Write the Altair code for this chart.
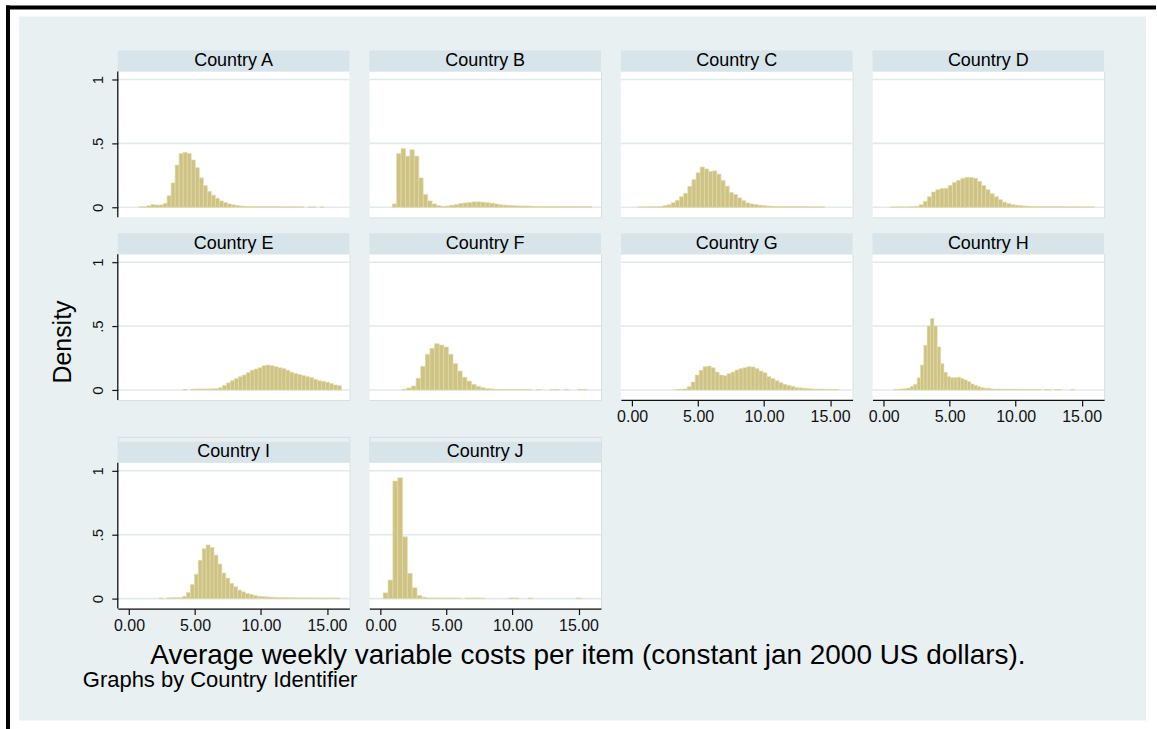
import altair as alt
import pandas as pd

# ---- histogram data: first bin edge, bin width and bar densities per country ----
countries = ["Country A", "Country B", "Country C", "Country D", "Country E",
             "Country F", "Country G", "Country H", "Country I", "Country J"]

bin_start = [0.75, 0.88, 0.45, 0.47, 4.09, 1.64, 3.27, 0.76, 2.27, 0.20]
bin_width = [0.305, 0.336, 0.314, 0.316, 0.300, 0.350, 0.302, 0.2535, 0.298, 0.366]

density_a = [0.005, 0.005, 0.012, 0.022, 0.018, 0.018, 0.03, 0.09, 0.19, 0.33,
             0.42, 0.43, 0.42, 0.37, 0.31, 0.23, 0.17, 0.125, 0.095, 0.07,
             0.05, 0.037, 0.026, 0.019, 0.014, 0.01, 0.008, 0.007, 0.006, 0.006,
             0.006, 0.005, 0.005, 0.005, 0.005, 0.004, 0.004, 0.004, 0.004, 0.004,
             0.004, 0.0, 0.003, 0.003, 0.0, 0.003]
density_b = [0.026, 0.42, 0.46, 0.40, 0.45, 0.40, 0.23, 0.10, 0.05, 0.026,
             0.013, 0.008, 0.01, 0.016, 0.022, 0.03, 0.034, 0.037, 0.042, 0.042,
             0.04, 0.036, 0.032, 0.026, 0.02, 0.017, 0.015, 0.013, 0.011, 0.01,
             0.01, 0.008, 0.007, 0.007, 0.006, 0.006, 0.006, 0.006, 0.005, 0.005,
             0.005, 0.005, 0.005, 0.005, 0.005]
density_c = [0.003, 0.004, 0.004, 0.004, 0.005, 0.006, 0.013, 0.02, 0.036, 0.055,
             0.083, 0.11, 0.164, 0.216, 0.27, 0.315, 0.30, 0.28, 0.285, 0.26,
             0.21, 0.165, 0.117, 0.10, 0.073, 0.052, 0.034, 0.026, 0.021, 0.016,
             0.013, 0.01, 0.008, 0.007, 0.006, 0.006, 0.005, 0.005, 0.005, 0.005,
             0.004, 0.004, 0.004, 0.004, 0.004]
density_d = [0.002, 0.003, 0.003, 0.003, 0.004, 0.004, 0.008, 0.02, 0.047, 0.083,
             0.12, 0.138, 0.146, 0.148, 0.17, 0.195, 0.21, 0.227, 0.234, 0.234,
             0.227, 0.203, 0.17, 0.138, 0.107, 0.083, 0.06, 0.04, 0.029, 0.021,
             0.016, 0.013, 0.01, 0.008, 0.007, 0.006, 0.006, 0.005, 0.005, 0.005,
             0.005, 0.004, 0.004, 0.004, 0.004, 0.004, 0.004, 0.003, 0.003]
density_e = [0.005, 0.0, 0.007, 0.008, 0.008, 0.008, 0.008, 0.009, 0.01, 0.018,
             0.036, 0.055, 0.073, 0.089, 0.104, 0.117, 0.135, 0.154, 0.164, 0.174,
             0.19, 0.195, 0.19, 0.182, 0.174, 0.167, 0.154, 0.138, 0.128, 0.12,
             0.112, 0.104, 0.096, 0.083, 0.073, 0.068, 0.06, 0.05, 0.039, 0.034]
density_f = [0.005, 0.016, 0.031, 0.091, 0.185, 0.279, 0.326, 0.362, 0.352, 0.336,
             0.279, 0.206, 0.148, 0.10, 0.07, 0.044, 0.029, 0.018, 0.01, 0.008,
             0.005, 0.005, 0.004, 0.004, 0.004, 0.004, 0.003, 0.003, 0.0, 0.004,
             0.0, 0.0, 0.004, 0.004, 0.0, 0.004, 0.0, 0.0, 0.004, 0.004]
density_g = [0.004, 0.006, 0.008, 0.026, 0.062, 0.117, 0.154, 0.182, 0.187, 0.174,
             0.14, 0.117, 0.112, 0.128, 0.14, 0.156, 0.167, 0.174, 0.182, 0.18,
             0.167, 0.148, 0.135, 0.104, 0.089, 0.073, 0.057, 0.044, 0.036, 0.029,
             0.018, 0.016, 0.013, 0.01, 0.008, 0.007, 0.006, 0.006, 0.005, 0.005,
             0.005]
density_h = [0.004, 0.006, 0.008, 0.01, 0.015, 0.029, 0.044, 0.094, 0.195, 0.35,
             0.50, 0.56, 0.50, 0.336, 0.206, 0.138, 0.104, 0.096, 0.096, 0.10,
             0.089, 0.078, 0.065, 0.047, 0.036, 0.026, 0.018, 0.013, 0.013, 0.008,
             0.007, 0.007, 0.006, 0.006, 0.006, 0.005, 0.005, 0.005, 0.005, 0.005,
             0.004, 0.004, 0.004, 0.004, 0.0, 0.004, 0.004, 0.0, 0.004, 0.004,
             0.0, 0.0, 0.0, 0.004]
density_i = [0.005, 0.0, 0.006, 0.007, 0.007, 0.008, 0.018, 0.048, 0.11, 0.19,
             0.30, 0.39, 0.42, 0.40, 0.34, 0.27, 0.20, 0.16, 0.12, 0.093,
             0.066, 0.053, 0.04, 0.032, 0.024, 0.018, 0.016, 0.013, 0.012, 0.01,
             0.009, 0.008, 0.008, 0.007, 0.007, 0.006, 0.006, 0.006, 0.006, 0.005,
             0.005, 0.005, 0.005, 0.005, 0.005, 0.005]
density_j = [0.045, 0.145, 0.92, 0.945, 0.484, 0.198, 0.085, 0.024, 0.011, 0.005,
             0.005, 0.005, 0.005, 0.005, 0.005, 0.004, 0.0, 0.005, 0.005, 0.005,
             0.004, 0.0, 0.0, 0.0, 0.0, 0.0, 0.005, 0.005, 0.0, 0.0,
             0.005, 0.0, 0.0, 0.0, 0.0, 0.0, 0.0, 0.0, 0.0, 0.0,
             0.005]

densities = [density_a, density_b, density_c, density_d, density_e,
             density_f, density_g, density_h, density_i, density_j]

x_ticks = [0, 5, 10, 15]
y_ticks = [0, 0.5, 1]

x_title = "Average weekly variable costs per item (constant jan 2000 US dollars)."
y_title = "Density"
note = "Graphs by Country Identifier"

# ---- long table of bars ----
rows = []
for name, x0, w, dens in zip(countries, bin_start, bin_width, densities):
    for i, d in enumerate(dens):
        if d > 0:
            rows.append({"country": name, "lo": x0 + i * w, "hi": x0 + (i + 1) * w,
                         "density": d})
bars_df = pd.DataFrame(rows)
grid_df = pd.DataFrame({"density": y_ticks})

# ---- styling ----
FONT = "Liberation Sans"
PW, PH = 232, 146          # plot area of one panel
STRIP_H = 21
ROW3_DROP = 26             # extra room above the last row (below the x labels of row 2)
BG = "#e8f0f2"
STRIP = "#d7e4ea"
GRID = "#e0e9ec"
AXIS = "#111111"
BAR_FILL = "#cec385"
BAR_EDGE = "#e2dba8"
X_DOMAIN = [-0.85, 16.7]
Y_LO, Y_HI = -0.078, 1.0625

x_axis_on = {"Country G", "Country H", "Country I", "Country J"}
y_axis_on = {"Country A", "Country E", "Country I"}
last_row = {"Country I", "Country J"}


def one(values):
    return alt.Data(values=values)


def decor_rect(x1, x2, y1, y2, color):
    return alt.Chart(one([{}])).mark_rect(fill=color).encode(
        x=alt.value(x1), x2=alt.value(x2), y=alt.value(y1), y2=alt.value(y2))


def decor_text(text, x, y, size, angle=0, align="center"):
    return alt.Chart(one([{"t": text}])).mark_text(
        font=FONT, fontSize=size, angle=angle, align=align, baseline="middle",
        color="#000000").encode(text="t:N", x=alt.value(x), y=alt.value(y))


def panel(name, first=False):
    top = ROW3_DROP if name in last_row else 0
    y_hi = Y_HI + top * (Y_HI - Y_LO) / PH

    if name in x_axis_on:
        xaxis = alt.Axis(values=x_ticks, format=".2f", title=None, grid=False,
                         domainColor=AXIS, domainWidth=1.2, tickColor=AXIS,
                         tickSize=6, tickWidth=1.2, labelFont=FONT, labelFontSize=16,
                         labelColor=AXIS, labelPadding=3, zindex=1)
    else:
        xaxis = None
    if name in y_axis_on:
        yaxis = alt.Axis(values=y_ticks, title=None, grid=False, domain=False,
                         labelExpr="datum.value == 0.5 ? '.5' : format(datum.value, 'd')",
                         labelAngle=270, labelAlign="center", labelBaseline="bottom",
                         tickColor=AXIS, tickSize=6, tickWidth=1.2, labelFont=FONT,
                         labelFontSize=15, labelColor=AXIS, labelPadding=6, zindex=1)
    else:
        yaxis = None

    xs = alt.Scale(domain=X_DOMAIN, nice=False, zero=False)
    ys = alt.Scale(domain=[Y_LO, y_hi], nice=False, zero=False)

    plot_bg = decor_rect(0, PW, top, top + PH, "#ffffff")

    grid = alt.Chart(grid_df).mark_rule(color=GRID, strokeWidth=1.6).encode(
        y=alt.Y("density:Q", scale=ys, axis=yaxis),
        x=alt.value(0), x2=alt.value(PW))

    bars = alt.Chart(bars_df).transform_filter(
        alt.datum.country == name
    ).mark_rect(fill=BAR_FILL, stroke=BAR_EDGE, strokeWidth=0.6).encode(
        x=alt.X("lo:Q", scale=xs, axis=xaxis),
        x2="hi:Q",
        y=alt.Y("density:Q", scale=ys, axis=yaxis),
        y2=alt.datum(0))

    strip = decor_rect(0, PW, top - STRIP_H, top, STRIP)
    label = decor_text(name, PW / 2, top - STRIP_H / 2, 18)

    layers = [plot_bg, grid, bars, strip, label]
    if name in y_axis_on:
        layers.append(alt.Chart(one([{}])).mark_rule(color=AXIS, strokeWidth=1.3).encode(
            x=alt.value(0), y=alt.value(top), y2=alt.value(top + PH)))
    if first:
        # page frame and shared titles, placed relative to this panel's origin
        ox, oy = 117, 70
        frame = [
            decor_rect(-ox, 1157 - ox, -oy, 729 - oy, "#ffffff"),
            decor_rect(5 - ox, 1157 - ox, 4 - oy, 8 - oy, "#000000"),
            decor_rect(5 - ox, 9 - ox, 4 - oy, 729 - oy, "#000000"),
            decor_rect(18 - ox, 1147 - ox, 15 - oy, 720 - oy, BG),
            decor_text(y_title, 62 - ox, 341 - oy, 25, angle=270),
            decor_text(x_title, 588 - ox, 656 - oy, 28),
            decor_text(note, 82 - ox, 680 - oy, 22, align="left"),
        ]
        layers = frame + layers
    return alt.layer(*layers).properties(width=PW, height=PH + top)


panels = [panel(c, first=(c == "Country A")) for c in countries]

chart = alt.concat(
    *panels, columns=4, spacing={"row": 37, "column": 20}, bounds="flush"
).properties(
    padding=0, background="#ffffff"
).configure_view(stroke=None).configure(font=FONT)

chart.save("out.html", embed_options={"renderer": "svg", "actions": False})
